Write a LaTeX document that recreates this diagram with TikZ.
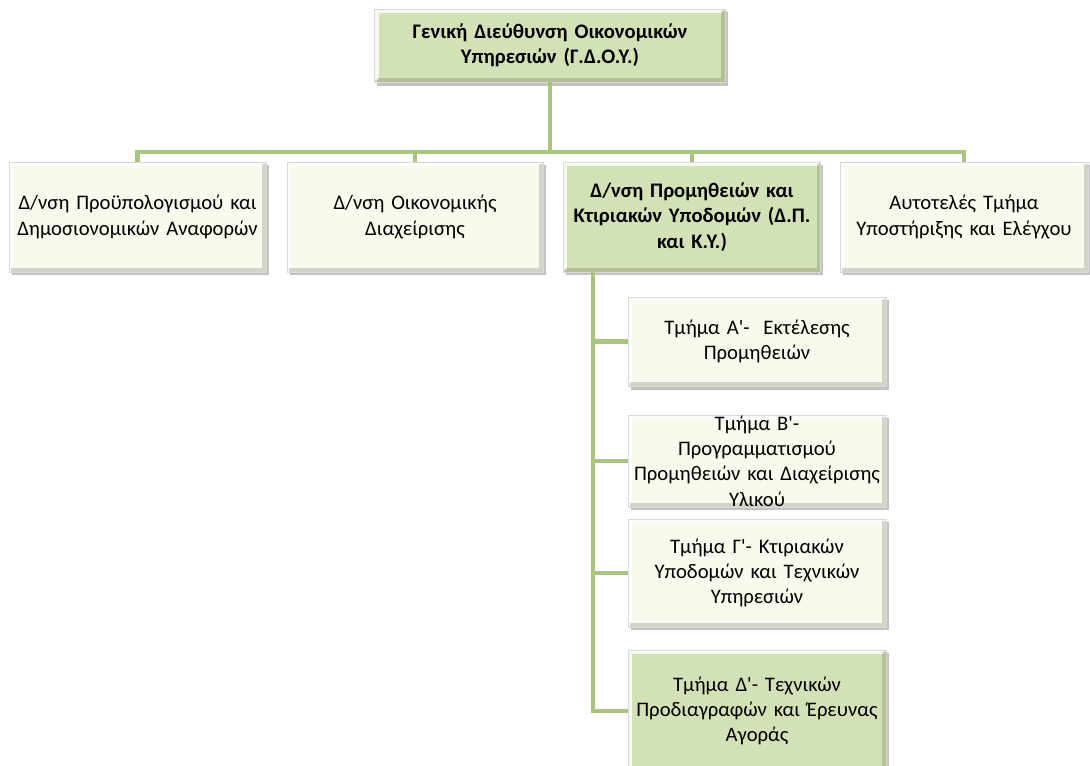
\documentclass[tikz,border=0pt]{standalone}
\usepackage{fontspec}
\setmainfont{Carlito}
\usetikzlibrary{calc,shadows,positioning}
\definecolor{leaf}{HTML}{D3E2B6}
\definecolor{cream}{HTML}{FAF9EE}
\definecolor{stem}{HTML}{A8C47E}
\tikzset{
  unit/.style={draw=black!15, fill=cream, align=center, inner sep=2pt,
    font=\fontsize{15.5}{19}\selectfont,
    drop shadow={shadow xshift=2pt,shadow yshift=-2.5pt,fill=black!60,opacity=.4},
    path picture={
      \draw[white,opacity=.8,line width=3pt]
        ([shift={(1.5pt,1.5pt)}]path picture bounding box.south west) |-
        ([shift={(-1.5pt,-1.5pt)}]path picture bounding box.north east);
      \draw[black,opacity=.15,line width=3pt]
        ([shift={(1.5pt,1.5pt)}]path picture bounding box.south west) -|
        ([shift={(-1.5pt,-1.5pt)}]path picture bounding box.north east);}},
  lead/.style={unit, fill=leaf},
  head/.style={lead, font=\bfseries\fontsize{15.5}{19}\selectfont},
  link/.style={stem, line width=3.5pt}
}
\newcommand\pr{\textquotesingle}
\begin{document}
\begin{tikzpicture}[x=0.75pt,y=-0.75pt]
  \useasboundingbox (0,0) rectangle (1090,765);
  \coordinate(bar) at (0,152);
  \coordinate(spine) at (593,0);
  \node[head, text width=259pt, minimum height=55pt](gdoy) at (550,45.5)
    {Γενική Διεύθυνση Οικονομικών\\Υπηρεσιών (Γ.Δ.Ο.Υ.)};
  \node[unit, text width=189pt, minimum height=82.5pt](budget) at (137.5,217)
    {Δ/νση Προϋπολογισμού και\\Δημοσιονομικών Αναφορών};
  \node[unit, text width=188pt, minimum height=82.5pt](finance) at (415,217)
    {Δ/νση Οικονομικής\\Διαχείρισης};
  \node[head, text width=189pt, minimum height=82.5pt](supply) at (692,217)
    {Δ/νση Προμηθειών και\\Κτιριακών Υποδομών (Δ.Π.\\και Κ.Υ.)};
  \node[unit, text width=182pt, minimum height=82.5pt](audit) at (964,217)
    {Αυτοτελές Τμήμα\\Υποστήριξης και Ελέγχου};
  \node[unit, text width=189.5pt, minimum height=67pt](tmA) at (757,341.5)
    {Τμήμα Α\pr-\ \ Εκτέλεσης\\Προμηθειών};
  \node[unit, text width=189.5pt, minimum height=69pt, inner ysep=0pt](tmB) at (757,461)
    {Τμήμα Β\pr-\\Προγραμματισμού\\Προμηθειών και Διαχείρισης\\Υλικού};
  \node[unit, text width=189.5pt, minimum height=81pt](tmC) at (757,573)
    {Τμήμα Γ\pr- Κτιριακών\\Υποδομών και Τεχνικών\\Υπηρεσιών};
  \node[lead, text width=189.5pt, minimum height=91.5pt](tmD) at (757,711)
    {Τμήμα Δ\pr- Τεχνικών\\Προδιαγραφών και Έρευνας\\Αγοράς};
  \draw[link](gdoy.south)--(gdoy.south|-bar);
  \draw[link](budget.north)--(budget.north|-bar)--(audit.north|-bar)--(audit.north);
  \draw[link](finance.north)--(finance.north|-bar);
  \draw[link](supply.north)--(supply.north|-bar);
  \draw[link](supply.south-|spine)--(spine|-tmD.west)--(tmD.west);
  \draw[link](spine|-tmA.west)--(tmA.west);
  \draw[link](spine|-tmB.west)--(tmB.west);
  \draw[link](spine|-tmC.west)--(tmC.west);
\end{tikzpicture}
\end{document}
